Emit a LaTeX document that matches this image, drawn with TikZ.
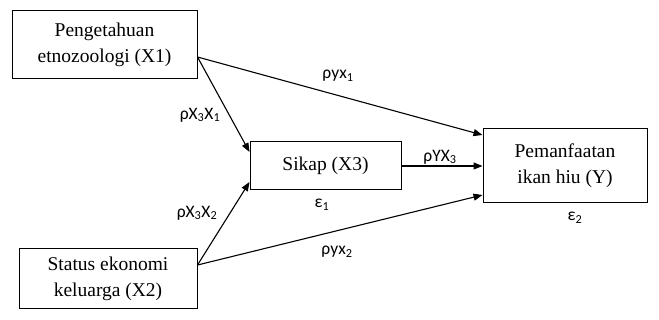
\documentclass[tikz,border=0pt]{standalone}
\usepackage{fontspec}
\setmainfont{Liberation Serif}
\newfontfamily\labfont{Carlito}
\usetikzlibrary{arrows.meta,positioning}

\begin{document}
\begin{tikzpicture}[x=1pt, y=-1pt,
  var/.style={rectangle, draw, line width=1pt, align=center, font=\fontsize{19.5}{26}\selectfont,
              inner sep=0pt},
  arr/.style={-{Triangle[length=9pt,width=7pt]}, line width=1.1pt},
  lbl/.style={font=\labfont\fontsize{17.5}{18}\selectfont, inner sep=0pt},
]
  \useasboundingbox (0,0) rectangle (659,320);
  \node[var, minimum width=185pt, minimum height=68pt] (x1) at (104.5,45) {Pengetahuan\\etnozoologi (X1)};
  \node[var, minimum width=178pt, minimum height=60pt] (x2) at (108,279) {Status ekonomi\\keluarga (X2)};
  \node[var, minimum width=151pt, minimum height=48pt] (x3) at (325.5,166) {Sikap (X3)};
  \node[var, minimum width=164pt, minimum height=74pt] (y) at (565,166) {Pemanfaatan\\ikan hiu (Y)};
  \draw[arr] ([yshift=-12pt]x1.east) -- ([yshift=14pt]x3.west);
  \draw[arr] ([yshift=-12pt]x1.east) -- ([yshift=31pt]y.west);
  \draw[arr] ([yshift=14pt]x2.east) -- ([yshift=-16pt]x3.west);
  \draw[arr] ([yshift=14pt]x2.east) -- ([yshift=-29pt]y.west);
  \draw[arr] (x3.east) -- (y.west);
  \node[lbl] (l1) at (338,76) {ρyx\textsubscript{1}};
  \node[lbl] (l2) at (200,115) {ρX\textsubscript{3}X\textsubscript{1}};
  \node[lbl] (l3) at (197,213) {ρX\textsubscript{3}X\textsubscript{2}};
  \node[lbl] (l4) at (337,252) {ρyx\textsubscript{2}};
  \node[lbl] (l5) at (440,157) {ρYX\textsubscript{3}};
  \node[lbl] (e1) at (322,205) {ε\textsubscript{1}};
  \node[lbl] (e2) at (575,218) {ε\textsubscript{2}};
\end{tikzpicture}
\end{document}
